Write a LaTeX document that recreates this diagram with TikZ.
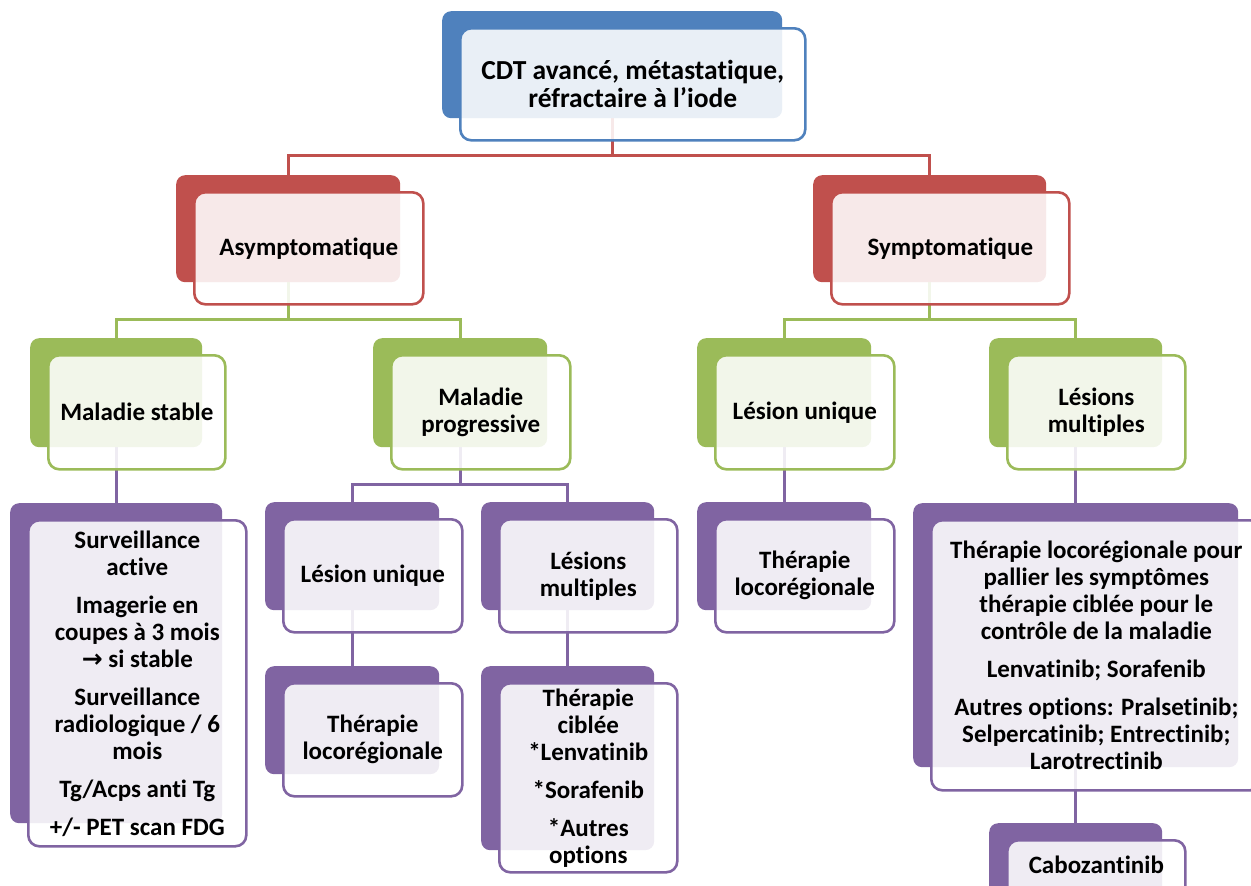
\documentclass[tikz,border=0pt]{standalone}
\usepackage{fontspec}
\setmainfont{Carlito}[Ligatures=NoCommon]
\newfontfamily\arrowfont{DejaVu Sans}
\usetikzlibrary{backgrounds}

\definecolor{cblue}{HTML}{4F81BD}
\definecolor{cred}{HTML}{C0504D}
\definecolor{cgreen}{HTML}{9BBB59}
\definecolor{cpurple}{HTML}{8064A2}

\begin{document}
\begin{tikzpicture}[x=1pt, y=-1pt,
    back/.style={fill=#1, rounded corners=9pt, anchor=north west, inner sep=0pt},
    front/.style={draw=#1, line width=2.6pt, fill=white, fill opacity=0.88, text opacity=1,
      rounded corners=11pt, anchor=north west, inner sep=0pt, align=center,
      font=\bfseries\fontsize{25}{27}\selectfont},
    link/.style={draw=#1, line width=2.6pt, to path={-- ++(0,37) -| (\tikztotarget)}}]
    \useasboundingbox (0,0) rectangle (1251,886);
    \clip (0,0) rectangle (1251,886);

    % level 0
    \node[back=cblue, minimum width=340pt, minimum height=107pt] (top-b) at (442,11) {};
    \node[front=cblue, minimum width=345pt, minimum height=112pt, font=\bfseries\fontsize{27.5}{28}\selectfont]
      (top) at (459,27) {CDT avancé, métastatique,\\réfractaire à l’iode};

    % level 1
    \node[back=cred, minimum width=224pt, minimum height=107pt] (asy-b) at (176,175) {};
    \node[front=cred, minimum width=229pt, minimum height=112pt] (asy) at (193,191) {Asymptomatique};
    \node[back=cred, minimum width=233pt, minimum height=107pt] (sym-b) at (813,175) {};
    \node[front=cred, minimum width=238pt, minimum height=112pt] (sym) at (830,191) {Symptomatique};

    % level 2
    \node[back=cgreen, minimum width=172pt, minimum height=109pt] (stable-b) at (30,338) {};
    \node[front=cgreen, minimum width=177pt, minimum height=114pt] (stable) at (47,354) {Maladie stable};
    \node[back=cgreen, minimum width=174pt, minimum height=109pt] (progr-b) at (373,338) {};
    \node[front=cgreen, minimum width=179pt, minimum height=114pt] (progr) at (390,354) {Maladie\\progressive};
    \node[back=cgreen, minimum width=174pt, minimum height=109pt] (sunique-b) at (697,338) {};
    \node[front=cgreen, minimum width=179pt, minimum height=114pt] (sunique) at (714,354) {Lésion unique};
    \node[back=cgreen, minimum width=173pt, minimum height=109pt] (smulti-b) at (989,338) {};
    \node[front=cgreen, minimum width=178pt, minimum height=114pt] (smulti) at (1006,354) {Lésions\\multiples};

    % level 3
    \node[back=cpurple, minimum width=212pt, minimum height=320pt] (suivi-b) at (10,503) {};
    \node[front=cpurple, minimum width=218pt, minimum height=326pt] (suivi) at (27,519)
      {Surveillance\\active\\[11pt]Imagerie en\\coupes à 3 mois\\{\arrowfont →} si stable\\[11pt]%
       Surveillance\\radiologique / 6\\mois\\[11pt]Tg/Acps anti Tg\\[11pt]+/- PET scan FDG};
    \node[back=cpurple, minimum width=174pt, minimum height=108pt] (unique-b) at (265,502) {};
    \node[front=cpurple, minimum width=179pt, minimum height=113pt] (unique) at (282,518) {Lésion unique};
    \node[back=cpurple, minimum width=173pt, minimum height=108pt] (multi-b) at (481,502) {};
    \node[front=cpurple, minimum width=178pt, minimum height=113pt] (multi) at (498,518) {Lésions\\multiples};
    \node[back=cpurple, minimum width=174pt, minimum height=108pt] (sloco-b) at (697,502) {};
    \node[front=cpurple, minimum width=179pt, minimum height=113pt] (sloco) at (714,518) {Thérapie\\locorégionale};
    \node[back=cpurple, minimum width=325pt, minimum height=264pt] (smed-b) at (913,503) {};
    \node[front=cpurple, minimum width=330pt, minimum height=270pt] (smed) at (930,519)
      {Thérapie locorégionale pour\\pallier les symptômes\\thérapie ciblée pour le\\contrôle de la maladie\\[11pt]%
       Lenvatinib; Sorafenib\\[11pt]Autres options: Pralsetinib;\\Selpercatinib; Entrectinib;\\Larotrectinib};

    % level 4
    \node[back=cpurple, minimum width=174pt, minimum height=108pt] (loco-b) at (265,666) {};
    \node[front=cpurple, minimum width=179pt, minimum height=113pt] (loco) at (282,682) {Thérapie\\locorégionale};
    \node[back=cpurple, minimum width=173pt, minimum height=184pt] (cible-b) at (481,666) {};
    \node[front=cpurple, minimum width=178pt, minimum height=189pt] (cible) at (498,682)
      {Thérapie\\ciblée\\*Lenvatinib\\[11pt]*Sorafenib\\[11pt]*Autres\\options};
    \node[back=cpurple, minimum width=173pt, minimum height=108pt] (cabo-b) at (989,823) {};
    \node[front=cpurple, minimum width=178pt, minimum height=113pt] (cabo) at (1006,839) {Cabozantinib\\[38pt]};

    \begin{pgfonlayer}{background}
      \draw[link=cred] (top-b.south) to (asy-b.north) (top-b.south) to (sym-b.north);
      \draw[link=cgreen] (asy-b.south) to (stable-b.north) (asy-b.south) to (progr-b.north);
      \draw[link=cgreen] (sym-b.south) to (sunique-b.north) (sym-b.south) to (smulti-b.north);
      \draw[link=cpurple] (stable-b.south) to (suivi-b.north);
      \draw[link=cpurple] (progr-b.south) to (unique-b.north) (progr-b.south) to (multi-b.north);
      \draw[link=cpurple] (unique-b.south) to (loco-b.north);
      \draw[link=cpurple] (multi-b.south) to (cible-b.north);
      \draw[link=cpurple] (sunique-b.south) to (sloco-b.north);
      \draw[link=cpurple] (smulti-b.south) to (smed-b.north);
      \draw[link=cpurple] (smed-b.south) to (cabo-b.north);
    \end{pgfonlayer}
  \end{tikzpicture}
\end{document}
